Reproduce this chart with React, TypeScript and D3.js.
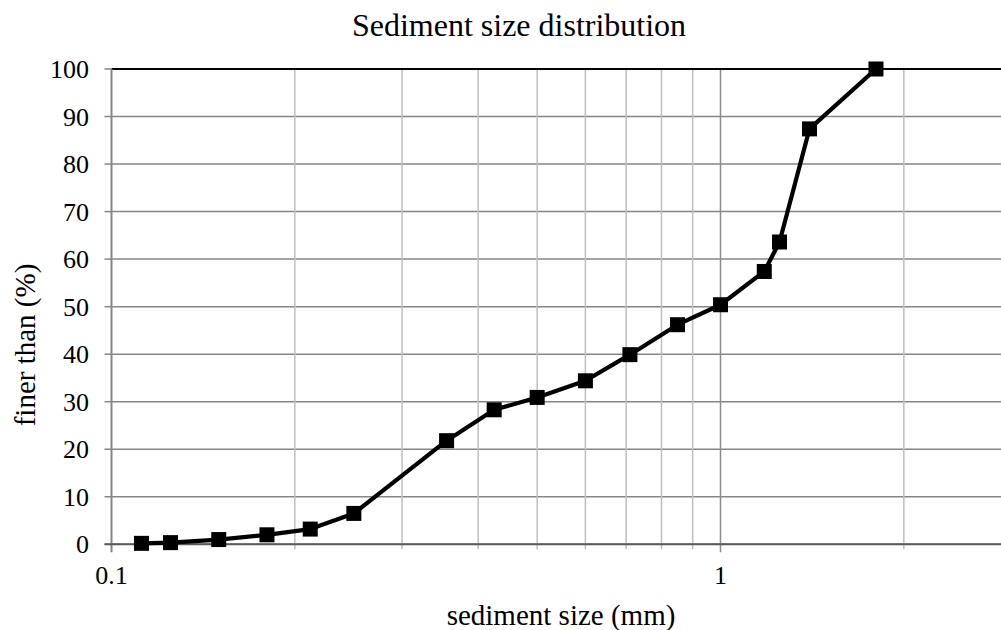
import React from "react";
import * as d3 from "d3";

const sizes = [0.112, 0.125, 0.15, 0.18, 0.212, 0.25, 0.355, 0.425, 0.5, 0.6, 0.71, 0.85, 1.0, 1.18, 1.25, 1.4, 1.8];
const finer = [0.2, 0.35, 1.0, 2.0, 3.2, 6.5, 21.8, 28.3, 30.9, 34.4, 39.9, 46.2, 50.4, 57.4, 63.6, 87.4, 100];
const yTicks = [0, 10, 20, 30, 40, 50, 60, 70, 80, 90, 100];
const xMajor = [0.1, 1];
const xMinor = [0.2, 0.3, 0.4, 0.5, 0.6, 0.7, 0.8, 0.9, 2, 3];
const xLabels = ["0.1", "1"];

const W = 1001;
const H = 630;
const FONT = "'Times New Roman', 'Liberation Serif', serif";

export default function App() {
  const x = d3.scaleLog().domain([0.1, 3]).range([111.5, 111.5 + 609 * Math.log10(30)]);
  const y = d3.scaleLinear().domain([0, 100]).range([544.3, 69]);
  const left = 111.5;
  const right = W;
  const line = d3
    .line<number>()
    .x((_, i) => x(sizes[i]))
    .y((d) => y(d));
  const ms = 15;
  return (
    <svg
      width={W}
      height={H}
      style={{ position: "absolute", left: 0, top: 0, background: "#fff" }}
      fontFamily={FONT}
    >
      <rect x={0} y={0} width={W} height={H} fill="#fff" />
      {yTicks.map((t) => (
        <line key={"gy" + t} x1={left} x2={right} y1={y(t)} y2={y(t)} stroke={t === 100 ? "#000" : "#868686"} strokeWidth={t === 100 ? 2 : 1.5} />
      ))}
      {xMinor.map((t) => (
        <line key={"gx" + t} x1={x(t)} x2={x(t)} y1={y(100) + 1} y2={y(0) + 5} stroke="#bfbfbf" strokeWidth={1.5} />
      ))}
      {xMajor.slice(1).map((t) => (
        <line key={"gX" + t} x1={x(t)} x2={x(t)} y1={y(100) + 1} y2={y(0) + 8} stroke="#8c8c8c" strokeWidth={1.5} />
      ))}
      <line x1={left} x2={left} y1={y(100)} y2={y(0) + 8} stroke="#868686" strokeWidth={2} />
      {yTicks.map((t) => (
        <line key={"ty" + t} x1={left - 7} x2={left} y1={y(t)} y2={y(t)} stroke="#868686" strokeWidth={1.5} />
      ))}
      <line x1={left - 7} x2={right} y1={y(0)} y2={y(0)} stroke="#5a5a5a" strokeWidth={2} />
      {yTicks.map((t) => (
        <text key={"ly" + t} x={89} y={y(t) + 9} fontSize={26} textAnchor="end" fill="#000">
          {t}
        </text>
      ))}
      {xMajor.map((t, i) => (
        <text key={"lx" + t} x={x(t)} y={584} fontSize={26} textAnchor="middle" fill="#000">
          {xLabels[i]}
        </text>
      ))}
      <path d={line(finer) || ""} fill="none" stroke="#000" strokeWidth={4.2} strokeLinejoin="round" />
      {finer.map((v, i) => (
        <rect key={"m" + i} x={x(sizes[i]) - ms / 2} y={y(v) - ms / 2} width={ms} height={ms} fill="#000" />
      ))}
      <text x={519} y={36} fontSize={32} textAnchor="middle" fill="#000">
        Sediment size distribution
      </text>
      <text x={561} y={625} fontSize={29} textAnchor="middle" fill="#000">
        sediment size (mm)
      </text>
      <text transform="translate(35,345) rotate(-90)" fontSize={29} textAnchor="middle" fill="#000">
        finer than (%)
      </text>
    </svg>
  );
}
